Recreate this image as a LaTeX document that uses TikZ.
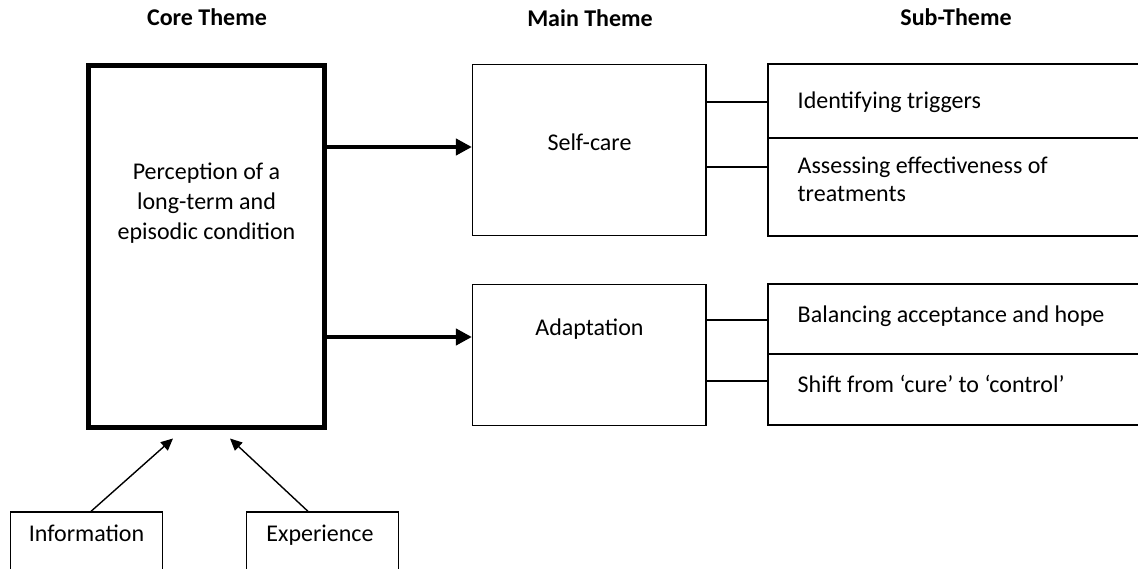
\documentclass[tikz,border=0pt]{standalone}
\usepackage{fontspec}
\setmainfont{Carlito}
\usetikzlibrary{arrows.meta}

\tikzset{
    headtxt/.style={font=\bfseries\fontsize{24}{30}\selectfont, inner sep=0pt, anchor=base},
    bodytxt/.style={font=\fontsize{24}{30}\selectfont, inner sep=0pt, align=center},
    linetxt/.style={font=\fontsize{24}{30}\selectfont, inner sep=0pt, anchor=base},
    subtxt/.style={linetxt, anchor=base west},
    thinbox/.style={draw, line width=1.3pt, inner sep=0pt},
    corebox/.style={draw, line width=5pt, inner sep=0pt},
    bigarrow/.style={line width=4.5pt, -{Triangle[length=16pt,width=16pt]}},
    smallarrow/.style={line width=1.4pt, -{Triangle[length=12pt,width=11pt]}},
    link/.style={line width=2.5pt}
}

\begin{document}
\begin{tikzpicture}[x=1pt, y=-1pt]
            \useasboundingbox (0,0) rectangle (1138,569);
            \clip (0,0) rectangle (1138,569);

            \node[headtxt] (coreh) at (207,26) {Core Theme};
            \node[headtxt] (mainh) at (590,26.5) {Main Theme};
            \node[headtxt] (subh) at (956,26) {Sub-Theme};

            \node[corebox, minimum width=236pt, minimum height=362pt] (core) at (206.5,246.5) {};
            \node[bodytxt] (corelbl) at (206.5,203) {Perception of a\\long-term and\\episodic condition};

            \node[thinbox, minimum width=233.5pt, minimum height=171pt] (selfcare) at (589.3,150) {};
            \node[linetxt] (selfcarelbl) at (589.5,151) {Self-care};
            \node[thinbox, minimum width=233.5pt, minimum height=141pt] (adapt) at (589.3,355) {};
            \node[linetxt] (adaptlbl) at (589.5,336) {Adaptation};

            \node[thinbox, minimum width=382pt, minimum height=74pt] (sub1) at (959,101) {};
            \node[thinbox, minimum width=382pt, minimum height=98pt] (sub2) at (959,187) {};
            \node[thinbox, minimum width=382pt, minimum height=70pt] (sub3) at (959,319) {};
            \node[thinbox, minimum width=382pt, minimum height=71pt] (sub4) at (959,389.5) {};
            \node[subtxt] (sub1lbl) at (797.5,108.3) {Identifying triggers};
            \node[subtxt] (sub2lbl) at (797.5,173.3) {Assessing effectiveness of};
            \node[subtxt] (sub2lblb) at (797.5,202) {treatments};
            \node[subtxt] (sub3lbl) at (797.5,322.7) {Balancing acceptance and hope};
            \node[subtxt] (sub4lbl) at (797.5,392.7) {Shift from ‘cure’ to ‘control’};

            \node[thinbox, minimum width=152pt, minimum height=80pt] (info) at (86.5,552) {};
            \node[linetxt] (infolbl) at (86.5,541) {Information};
            \node[thinbox, minimum width=152pt, minimum height=80pt] (exp) at (322.5,552) {};
            \node[linetxt] (explbl) at (320,541) {Experience};

            \coordinate (a1) at (0,147);
            \coordinate (a2) at (0,337);
            \coordinate (c1) at (0,102);
            \coordinate (c2) at (0,167);
            \coordinate (c3) at (0,320);
            \coordinate (c4) at (0,381);

            \draw[bigarrow] (core.east |- a1) -- (selfcare.west |- a1);
            \draw[bigarrow] (core.east |- a2) -- (adapt.west |- a2);

            \draw[link] (selfcare.east |- c1) -- (sub1.west |- c1);
            \draw[link] (selfcare.east |- c2) -- (sub2.west |- c2);
            \draw[link] (adapt.east |- c3) -- (sub3.west |- c3);
            \draw[link] (adapt.east |- c4) -- (sub4.west |- c4);

            \draw[smallarrow] ([xshift=4.5pt]info.north) -- ([xshift=-33.5pt,yshift=-8.5pt]core.south);
            \draw[smallarrow] ([xshift=-14.5pt]exp.north) -- ([xshift=23.5pt,yshift=-8.5pt]core.south);
        \end{tikzpicture}
\end{document}
